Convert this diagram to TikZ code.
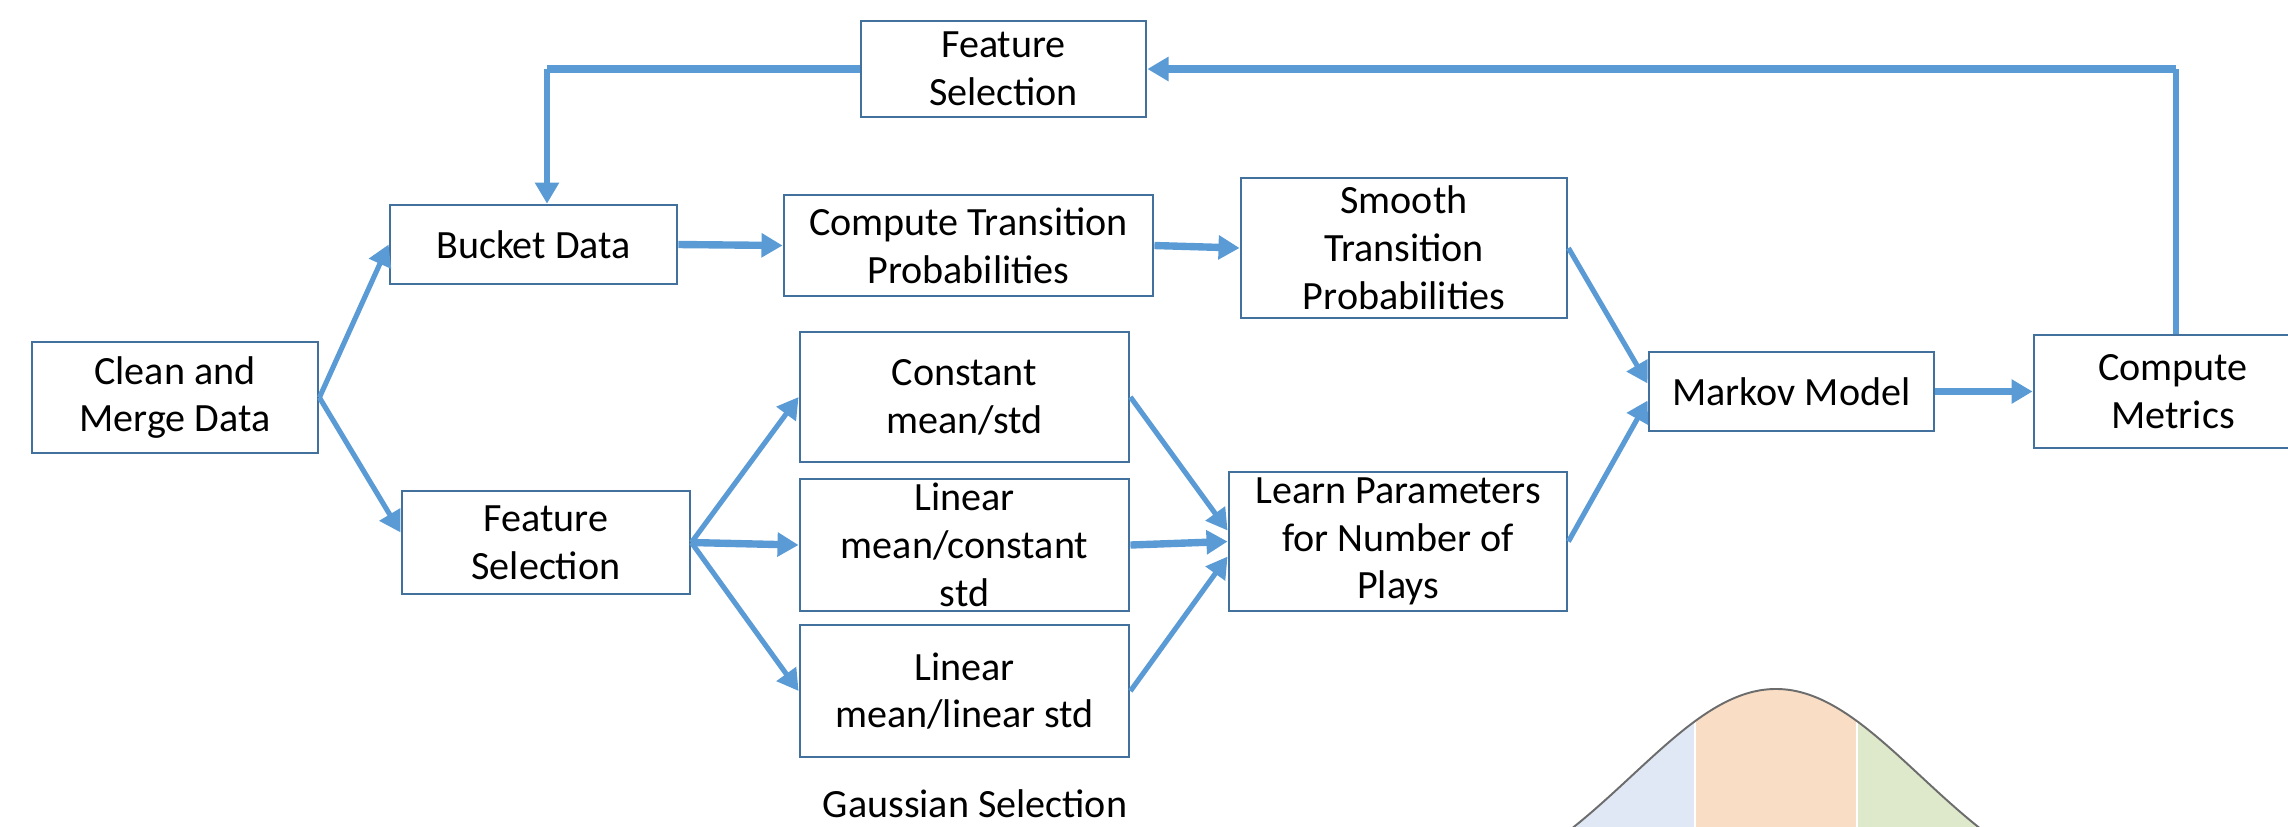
\documentclass[tikz,border=0pt]{standalone}
\usepackage{fontspec}
\setmainfont{Carlito}
\usetikzlibrary{arrows.meta}
\definecolor{lineblue}{HTML}{5B9BD5}
\definecolor{boxblue}{HTML}{41719C}
\definecolor{gblue}{HTML}{E0E8F5}
\definecolor{gorange}{HTML}{F9DDC5}
\definecolor{ggreen}{HTML}{DEE8CB}
\tikzset{
  box/.style={draw=boxblue, line width=0.75pt, fill=white, align=center, inner sep=0pt,
    font=\fontsize{11.4}{13.6}\selectfont},
  thinline/.style={draw=lineblue, line width=1.45pt},
  thickline/.style={draw=lineblue, line width=2.1pt},
  arr/.style={-{Triangle[length=6pt,width=6.6pt]}},
  lbl/.style={font=\fontsize{11.4}{13.6}\selectfont, inner sep=0pt}
}
\begin{document}
\begin{tikzpicture}[x=0.01cm,y=-0.01cm]
\useasboundingbox (0,0) rectangle (2288,826);

% Gaussian curve (drawn first, partly below the page edge)
\fill[gblue] plot[domain=-2.6:-0.5625,samples=40,variable=\u] ({1776+144*\u},{909-220*exp(-\u*\u/2)}) -- (1695,909) -- cycle;
\fill[gorange] plot[domain=-0.5625:0.5625,samples=30,variable=\u] ({1776+144*\u},{909-220*exp(-\u*\u/2)}) -- (1857,909) -- (1695,909) -- cycle;
\fill[ggreen] plot[domain=0.5625:2.6,samples=40,variable=\u] ({1776+144*\u},{909-220*exp(-\u*\u/2)}) -- (1857,909) -- cycle;
\draw[white, line width=0.4pt] (1695,{909-220*exp(-0.5625*0.5625/2)}) -- (1695,909);
\draw[white, line width=0.4pt] (1857,{909-220*exp(-0.5625*0.5625/2)}) -- (1857,909);
\draw[gray!85!black, line width=0.55pt] plot[domain=-2.6:2.6,samples=80,variable=\u,smooth] ({1776+144*\u},{909-220*exp(-\u*\u/2)});

% boxes
\node[box, minimum width=2.85cm, minimum height=0.96cm] (fsTop) at (1003.5,69) {Feature\\Selection};
\node[box, minimum width=2.87cm, minimum height=0.79cm] (bucket) at (533.5,244.5) {Bucket Data};
\node[box, minimum width=3.69cm, minimum height=1.01cm] (ctp) at (968.5,245.5) {Compute Transition\\Probabilities};
\node[box, minimum width=3.26cm, minimum height=1.40cm] (stp) at (1404,248) {Smooth\\Transition\\Probabilities};
\node[box, minimum width=2.86cm, minimum height=1.11cm] (clean) at (175,397.5) {Clean and\\Merge Data};
\node[box, minimum width=2.88cm, minimum height=1.03cm] (fsLow) at (546,542.5) {Feature\\Selection};
\node[box, minimum width=3.29cm, minimum height=1.30cm] (const) at (964.5,397) {Constant\\mean/std};
\node[box, minimum width=3.29cm, minimum height=1.32cm] (lmc) at (964.5,545) {Linear\\mean/constant\\std};
\node[box, minimum width=3.29cm, minimum height=1.32cm] (lml) at (964.5,691) {Linear\\mean/linear std};
\node[box, minimum width=3.38cm, minimum height=1.39cm] (learn) at (1398,541.5) {Learn Parameters\\for Number of\\Plays};
\node[box, minimum width=2.85cm, minimum height=0.79cm] (markov) at (1791.5,391.5) {Markov Model};
\node[box, minimum width=2.78cm, minimum height=1.13cm] (metrics) at (2173,391.5) {Compute\\Metrics};
\node[lbl, anchor=base] (gsel) at (975,817) {Gaussian Selection};

% connectors
\coordinate (tr) at (2176,69);
\coordinate (tl) at (547,69);
\draw[thinline] (metrics.north -| tr) -- (tr);
\draw[thickline, arr] (tr) -- (fsTop.east);
\draw[thickline] (fsTop.west) -- (tl);
\draw[thinline, arr] (tl) -- (tl |- bucket.north);

\draw[thinline, arr] (clean.east) -- (bucket.west);
\draw[thinline, arr] (clean.east) -- ([yshift=0.1cm]fsLow.west);
\draw[thickline, arr] (bucket.east) -- (ctp.west);
\draw[thickline, arr] (ctp.east) -- (stp.west);

\draw[thinline, arr] (fsLow.east) -- (const.west);
\draw[thickline, arr] (fsLow.east) -- (lmc.west);
\draw[thinline, arr] (fsLow.east) -- (lml.west);

\draw[thinline, arr] (const.east) -- ([yshift=0.11cm]learn.west);
\draw[thickline, arr] (lmc.east) -- (learn.west);
\draw[thinline, arr] (lml.east) -- ([yshift=-0.15cm]learn.west);

\draw[thinline, arr] (stp.east) -- ([yshift=0.08cm]markov.west);
\draw[thinline, arr] (learn.east) -- ([yshift=-0.09cm]markov.west);
\draw[thickline, arr] (markov.east) -- (metrics.west);
\end{tikzpicture}
\end{document}
